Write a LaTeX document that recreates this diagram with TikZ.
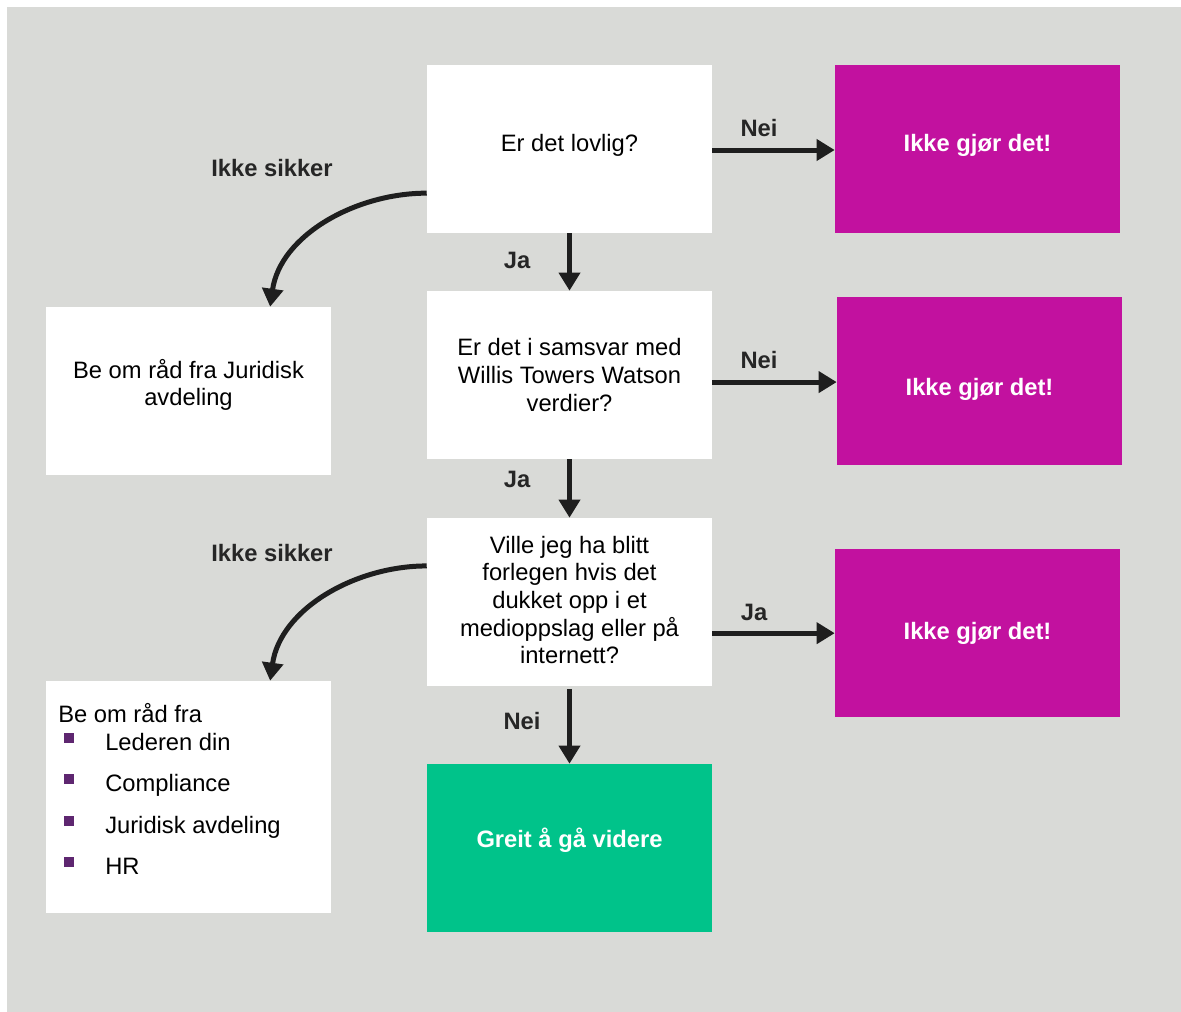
\documentclass[tikz,border=0pt]{standalone}
\usepackage{fontspec}
\setmainfont{Liberation Sans}
\usetikzlibrary{arrows.meta,calc}
\definecolor{bggray}{HTML}{D9DAD7}
\definecolor{wtwmag}{HTML}{C2119F}
\definecolor{wtwgreen}{HTML}{00C38A}
\definecolor{bulletpurple}{HTML}{5E2670}
\definecolor{arrowblack}{HTML}{1E1E1E}
\begin{document}
\begin{tikzpicture}[x=0.75pt,y=-0.75pt,
  box/.style={rectangle, inner sep=0pt, minimum width=213.75pt, minimum height=126pt, align=center, font=\fontsize{17.8pt}{20.8pt}\selectfont},
  qbox/.style={box, fill=white, text=black},
  nobox/.style={box, fill=wtwmag, text=white, font=\fontsize{17.8pt}{20.8pt}\selectfont\bfseries},
  okbox/.style={box, fill=wtwgreen, text=white, font=\fontsize{17.8pt}{20.8pt}\selectfont\bfseries},
  boxtext/.style={inner sep=0pt, align=center, font=\fontsize{17.8pt}{20.8pt}\selectfont},
  whitebold/.style={boxtext, text=white, font=\fontsize{17.8pt}{20.8pt}\selectfont\bfseries},
  lbl/.style={font=\fontsize{17.8pt}{20.8pt}\selectfont\bfseries, text=black!85, inner sep=0pt},
  plain/.style={font=\fontsize{17.8pt}{20.8pt}\selectfont, text=black, inner sep=0pt},
  bul/.style={fill=bulletpurple, minimum size=7.5pt, inner sep=0pt},
  arr/.style={draw=arrowblack, line width=3.75pt, -{Triangle[width=15.5pt,length=13.5pt]}}
  ]
\useasboundingbox (0,0) rectangle (1181,1012);
\fill[bggray] (7,7) rectangle (1181,1012);

% boxes
\node[qbox] (q1) at (569.5,149) {};
\node[boxtext] (q1t) at ($(q1.center)+(0,-4)$) {Er det lovlig?};
\node[nobox] (n1) at (977.5,149) {};
\node[whitebold] (n1t) at ($(n1.center)+(0,-4)$) {Ikke gjør det!};
\node[qbox] (q2) at (569.5,375) {Er det i samsvar med\\Willis Towers Watson\\verdier?};
\node[nobox] (n2) at (979.5,381) {};
\node[whitebold] (n2t) at ($(n2.center)+(0,8)$) {Ikke gjør det!};
\node[qbox] (q3) at (569.5,602) {};
\node[boxtext] (q3t) at ($(q3.center)+(0,-2)$) {Ville jeg ha blitt\\forlegen hvis det\\dukket opp i et\\medioppslag eller på\\internett?};
\node[nobox] (n3) at (977.5,633) {Ikke gjør det!};
\node[okbox] (ok) at (569.5,848) {};
\node[whitebold] (okt) at ($(ok.center)+(0,-8)$) {Greit å gå videre};
\node[qbox] (l1) at (188.5,391) {};
\node[boxtext] (l1t) at ($(l1.center)+(0,-6)$) {Be om råd fra Juridisk\\avdeling};
\node[qbox, minimum height=174pt] (l2) at (188.5,797) {};

% contents of l2
\node[plain, anchor=base west] (l2t) at (58,722) {Be om råd fra};
\node[bul] (b1) at (69,738) {};
\node[bul] (b2) at (69,779) {};
\node[bul] (b3) at (69,821) {};
\node[bul] (b4) at (69,862) {};
\node[plain, anchor=base west] (l2a) at (105,750) {Lederen din};
\node[plain, anchor=base west] (l2b) at (105,791) {Compliance};
\node[plain, anchor=base west] (l2c) at (105,833) {Juridisk avdeling};
\node[plain, anchor=base west] (l2d) at (105,874) {HR};

% horizontal arrows
\draw[arr] ($(q1.south east)!0.494!(q1.north east)$) -- (n1.west |- {$(q1.south east)!0.494!(q1.north east)$});
\draw[arr] ($(q2.south east)!0.458!(q2.north east)$) -- (n2.west |- {$(q2.south east)!0.458!(q2.north east)$});
\draw[arr] ($(q3.south east)!0.315!(q3.north east)$) -- (n3.west |- {$(q3.south east)!0.315!(q3.north east)$});

% vertical arrows
\draw[arr] (q1.south) -- (q2.north);
\draw[arr] (q2.south) -- (q3.north);
\draw[arr] ([yshift=-2pt]q3.south) -- (ok.north);

% curved arrows
\draw[arr] ($(q1.south west)!0.238!(q1.north west)$) to[out=180,in=82,looseness=0.95] ($(l1.north west)!0.786!(l1.north east)$);
\draw[arr] ($(q3.south west)!0.714!(q3.north west)$) to[out=180,in=82,looseness=0.95] ($(l2.north west)!0.786!(l2.north east)$);

% labels
\node[lbl] (lnei1) at (759,128) {Nei};
\node[lbl] (lnei2) at (759,360) {Nei};
\node[lbl] (lja3) at (754,612) {Ja};
\node[lbl] (lja1) at (517,260) {Ja};
\node[lbl] (lja2) at (517,479) {Ja};
\node[lbl] (lnei3) at (522,721) {Nei};
\node[lbl] (lis1) at (272,168) {Ikke sikker};
\node[lbl] (lis2) at (272,553) {Ikke sikker};
\end{tikzpicture}
\end{document}
